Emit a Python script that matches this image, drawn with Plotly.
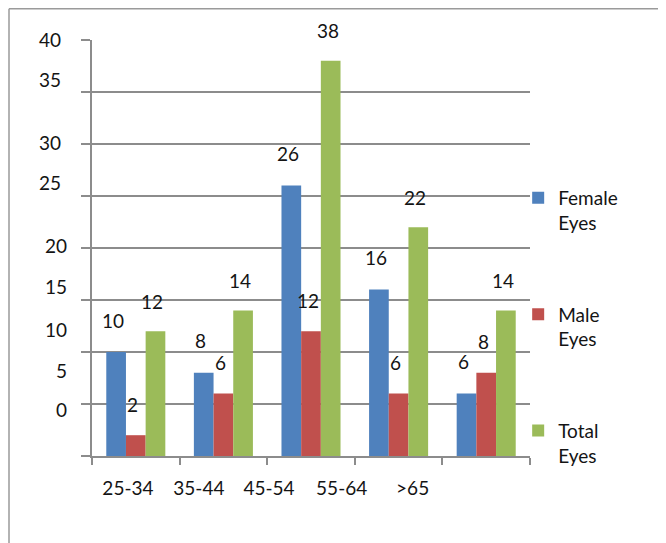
import plotly.graph_objects as go

# ---- data ----
categories = ["25-34", "35-44", "45-54", "55-64", ">65"]
female_eyes = [10, 8, 26, 16, 6]
male_eyes = [2, 6, 12, 6, 8]
total_eyes = [12, 14, 38, 22, 14]
series_names = ["Female<br>Eyes", "Male<br>Eyes", "Total<br>Eyes"]
y_tick_labels_upper = ["40", "35", "30", "25"]
y_tick_labels_lower = ["20", "15", "10", "5", "0"]

# ---- layout constants (label placement as in the reference) ----
Y_UPPER_POS = [40, 36.15, 30.1, 26.25]
Y_LOWER_POS = [20.2, 16.25, 12.1, 8.1, 4.4]
X_LABEL_POS = [-0.09, 0.72, 1.52, 2.35, 3.16]
COLORS = ["#4F81BD", "#C0504D", "#9BBB59"]
FONT = "Lato"
FS = 19
TXT = "#141414"
GRID = "#8c8c8c"

series = [female_eyes, male_eyes, total_eyes]

fig = go.Figure()
for i, (name, vals) in enumerate(zip(series_names, series)):
    fig.add_trace(go.Bar(
        x=categories, y=vals, name=name, marker_color=COLORS[i],
        marker_line_width=0, legendgroup=f"g{i}",
    ))

# data labels
bar_w = 19.6
yshifts = [32, 31, 30]
for i, vals in enumerate(series):
    for c, v in zip(categories, vals):
        fig.add_annotation(
            x=c, y=v, text=str(v), showarrow=False,
            xshift=(i - 1) * bar_w - 3, yshift=yshifts[i],
            font=dict(family=FONT, size=FS, color=TXT),
        )

# frame lines (left and top)
fig.add_shape(type="line", xref="paper", yref="paper", x0=-0.1895, x1=-0.1895,
              y0=-0.3, y1=1.075, line=dict(color="#9a9a9a", width=1.5))
fig.add_shape(type="line", xref="paper", yref="paper", x0=-0.1895, x1=1.4,
              y0=1.075, y1=1.075, line=dict(color="#9a9a9a", width=1.5))

# invisible traces to activate overlay axes
fig.add_trace(go.Scatter(x=[None], y=[None], xaxis="x2", yaxis="y2", showlegend=False, hoverinfo="skip"))
fig.add_trace(go.Scatter(x=[None], y=[None], xaxis="x", yaxis="y3", showlegend=False, hoverinfo="skip"))

fig.update_layout(
    width=666, height=543,
    margin=dict(l=84, r=144, t=32, b=95),
    paper_bgcolor="white", plot_bgcolor="white",
    barmode="group", bargap=0.326, bargroupgap=0,
    font=dict(family=FONT, size=FS, color=TXT),
    xaxis=dict(
        type="category", range=[-0.5, 4.5], tickson="boundaries",
        ticks="outside", ticklen=7, tickcolor=GRID, tickwidth=1.5,
        showticklabels=False, showgrid=False,
        showline=True, linecolor=GRID, linewidth=1.5,
    ),
    xaxis2=dict(
        overlaying="x", range=[-0.5, 4.5], tickvals=X_LABEL_POS, ticktext=categories,
        side="bottom", anchor="y", showgrid=False, zeroline=False, ticks="",
        showline=False, ticklabelstandoff=19,
        tickfont=dict(family=FONT, size=FS, color=TXT),
    ),
    yaxis=dict(
        range=[0, 40], dtick=5, showgrid=True, gridcolor=GRID, gridwidth=1.5,
        ticks="outside", ticklen=9, tickcolor=GRID, tickwidth=1.5,
        showticklabels=False, zeroline=False,
        showline=True, linecolor=GRID, linewidth=1.5,
    ),
    yaxis2=dict(
        overlaying="y", range=[0, 40], tickvals=Y_UPPER_POS, ticktext=y_tick_labels_upper,
        showgrid=False, zeroline=False, ticks="", showline=False,
        ticklabelstandoff=30, tickfont=dict(family=FONT, size=FS, color=TXT),
    ),
    yaxis3=dict(
        overlaying="y", range=[0, 40], tickvals=Y_LOWER_POS, ticktext=y_tick_labels_lower,
        showgrid=False, zeroline=False, ticks="", showline=False,
        ticklabelstandoff=24, tickfont=dict(family=FONT, size=FS, color=TXT),
    ),
    legend=dict(
        x=0.973, y=0.666, xanchor="left", yanchor="top", valign="top",
        tracegroupgap=64, font=dict(family=FONT, size=FS, color=TXT),
        bgcolor="rgba(0,0,0,0)",
    ),
)

fig.write_html("out.html")
